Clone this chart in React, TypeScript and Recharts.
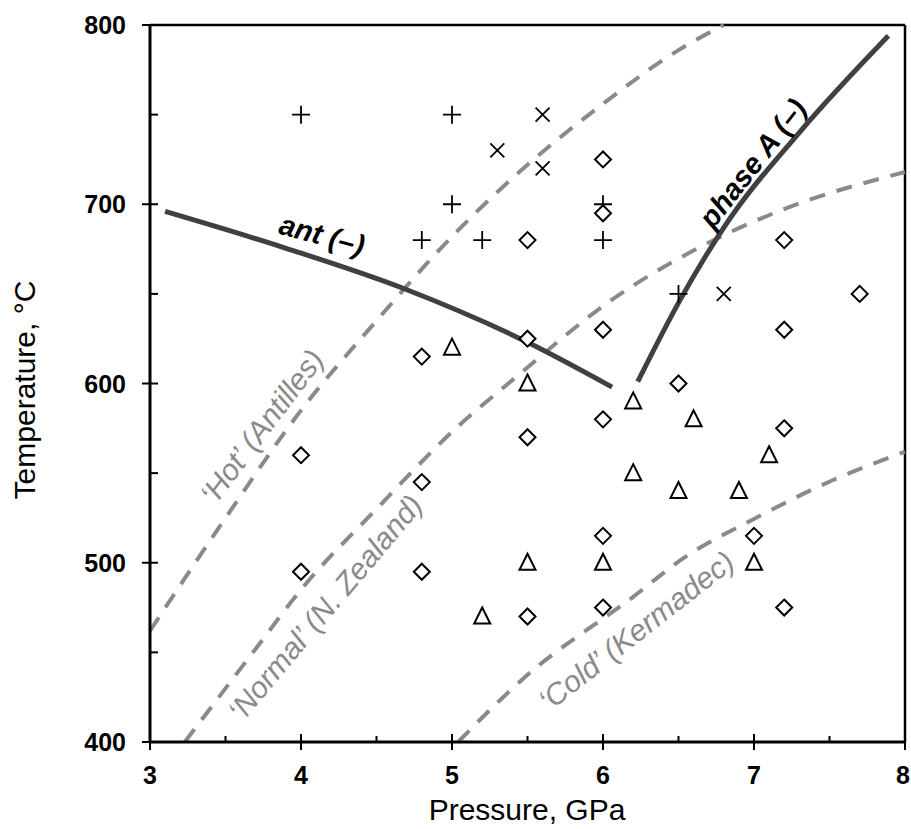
import React from "react";
import {
  ComposedChart,
  Scatter,
  Line,
  XAxis,
  YAxis,
  ReferenceLine,
  ReferenceDot,
} from "recharts";

// experiment runs, P in GPa, T in °C
const plusRuns = [
  { p: 4, t: 750 }, { p: 5, t: 750 }, { p: 5, t: 700 }, { p: 4.8, t: 680 },
  { p: 5.2, t: 680 }, { p: 6, t: 700 }, { p: 6, t: 680 }, { p: 6.5, t: 650 },
];
const crossRuns = [
  { p: 5.3, t: 730 }, { p: 5.6, t: 750 }, { p: 5.6, t: 720 }, { p: 6.8, t: 650 },
];
const diamondRuns = [
  { p: 6, t: 725 }, { p: 6, t: 695 }, { p: 5.5, t: 680 }, { p: 6, t: 630 },
  { p: 5.5, t: 625 }, { p: 4.8, t: 615 }, { p: 7.2, t: 680 }, { p: 7.2, t: 630 },
  { p: 7.7, t: 650 }, { p: 6.5, t: 600 }, { p: 6, t: 580 }, { p: 5.5, t: 570 },
  { p: 7.2, t: 575 }, { p: 4, t: 560 }, { p: 4.8, t: 545 }, { p: 6, t: 515 },
  { p: 7, t: 515 }, { p: 4, t: 495 }, { p: 4.8, t: 495 }, { p: 5.5, t: 470 },
  { p: 6, t: 475 }, { p: 7.2, t: 475 },
];
const triangleRuns = [
  { p: 5, t: 620 }, { p: 5.5, t: 600 }, { p: 6.2, t: 590 }, { p: 6.6, t: 580 },
  { p: 7.1, t: 560 }, { p: 6.2, t: 550 }, { p: 6.5, t: 540 }, { p: 6.9, t: 540 },
  { p: 5.5, t: 500 }, { p: 6, t: 500 }, { p: 7, t: 500 }, { p: 5.2, t: 470 },
];

// reaction curves
const antCurve = [
  { p: 3.1, t: 696 }, { p: 3.88, t: 676 }, { p: 4.68, t: 653 },
  { p: 5.5, t: 623 }, { p: 6.06, t: 598 },
];
const phaseACurve = [
  { p: 6.23, t: 601 }, { p: 6.5, t: 645 }, { p: 6.8, t: 687 },
  { p: 7.3, t: 740 }, { p: 7.89, t: 794 },
];

// slab-top geotherms
const hotGeotherm = [
  { p: 3.0, t: 462 }, { p: 3.5, t: 525 }, { p: 4.0, t: 585 }, { p: 4.5, t: 635 },
  { p: 5.0, t: 682 }, { p: 5.5, t: 722 }, { p: 6.0, t: 756 }, { p: 6.5, t: 786 },
  { p: 6.8, t: 800 },
];
const normalGeotherm = [
  { p: 3.23, t: 400 }, { p: 3.7, t: 452 }, { p: 4.0, t: 485 }, { p: 4.5, t: 530 },
  { p: 5.0, t: 573 }, { p: 5.43, t: 604 }, { p: 6.03, t: 645 }, { p: 6.64, t: 676 },
  { p: 7.19, t: 697 }, { p: 8.0, t: 718 },
];
const coldGeotherm = [
  { p: 5.04, t: 400 }, { p: 5.48, t: 436 }, { p: 6.2, t: 481 }, { p: 6.54, t: 503 },
  { p: 6.99, t: 524 }, { p: 7.52, t: 546 }, { p: 8.0, t: 562 },
];

const xTicks = [3, 3.5, 4, 4.5, 5, 5.5, 6, 6.5, 7, 7.5, 8];
const yTicks = [400, 450, 500, 550, 600, 650, 700, 750, 800];

const FONT = "'Liberation Sans', Arial, sans-serif";
const GREY = "#8a8a8a";
const DARK = "#404040";

const PlusMark = ({ cx, cy }: any) => (
  <path d={`M${cx - 9},${cy}H${cx + 9}M${cx},${cy - 9}V${cy + 9}`} stroke="#000" strokeWidth={1.8} fill="none" />
);
const CrossMark = ({ cx, cy }: any) => (
  <path d={`M${cx - 7},${cy - 7}L${cx + 7},${cy + 7}M${cx - 7},${cy + 7}L${cx + 7},${cy - 7}`} stroke="#000" strokeWidth={1.8} fill="none" />
);
const DiamondMark = ({ cx, cy }: any) => (
  <path d={`M${cx},${cy - 8}L${cx + 8},${cy}L${cx},${cy + 8}L${cx - 8},${cy}Z`} stroke="#000" strokeWidth={2} fill="#fff" />
);
const TriangleMark = ({ cx, cy }: any) => (
  <path d={`M${cx},${cy - 9}L${cx + 8},${cy + 7}L${cx - 8},${cy + 7}Z`} stroke="#000" strokeWidth={2} fill="#fff" />
);

const XTick = ({ x, y, payload }: any) => {
  const major = Number.isInteger(payload.value);
  return (
    <g>
      <line x1={x} x2={x} y1={major ? y - 8 : y - 6} y2={major ? y + 8 : y} stroke="#000" strokeWidth={2} />
      {major && (
        <text x={payload.value === 8 ? x - 2 : x} y={y + 42} textAnchor="middle" fontFamily={FONT} fontWeight="bold" fontSize={25} fill="#000">
          {payload.value}
        </text>
      )}
    </g>
  );
};

const YTick = ({ x, y, payload }: any) => {
  const major = payload.value % 100 === 0;
  return (
    <g>
      <line x1={major ? x - 8 : x} x2={x + 8} y1={y} y2={y} stroke="#000" strokeWidth={2} />
      {major && (
        <text x={x - 24} y={y + 9} textAnchor="end" fontFamily={FONT} fontWeight="bold" fontSize={25} fill="#000">
          {payload.value}
        </text>
      )}
    </g>
  );
};

const tiltedText = (text: string, angle: number, style: any) => ({ cx, cy }: any) => (
  <text
    x={cx}
    y={cy}
    dy="0.35em"
    textAnchor="middle"
    transform={`rotate(${angle} ${cx} ${cy})`}
    fontFamily={FONT}
    {...style}
  >
    {text}
  </text>
);

const greyLabel = { fill: GREY, fontStyle: "italic", fontSize: 30 };
const darkLabel = { fill: "#000", fontStyle: "italic", fontWeight: "bold", fontSize: 29 };

const TempLabel = () => (
  <text x={35} y={390} transform="rotate(-90 35 390)" textAnchor="middle" fontFamily={FONT} fontSize={30} fill="#000">
    Temperature, °C
  </text>
);
const PressLabel = () => (
  <text x={527} y={820} textAnchor="middle" fontFamily={FONT} fontSize={30} fill="#000">
    Pressure, GPa
  </text>
);

export default function App() {
  return (
    <div style={{ position: "absolute", left: 0, top: 0, width: 911, height: 829, background: "#fff" }}>
      <ComposedChart width={911} height={829} margin={{ top: 25, right: 6, bottom: 0, left: 0 }}>
        <XAxis
          type="number"
          dataKey="p"
          domain={[3, 8]}
          ticks={xTicks}
          interval={0}
          tickSize={0}
          tickMargin={0}
          tick={<XTick />}
          height={87}
          axisLine={{ stroke: "#000", strokeWidth: 3 }}
          label={{ content: <PressLabel /> }}
        />
        <YAxis
          type="number"
          dataKey="t"
          domain={[400, 800]}
          ticks={yTicks}
          interval={0}
          tickSize={0}
          tickMargin={0}
          tick={<YTick />}
          width={150}
          axisLine={{ stroke: "#000", strokeWidth: 3 }}
          label={{ content: <TempLabel /> }}
        />
        <ReferenceLine y={800} stroke="#000" strokeWidth={2.5} />
        <ReferenceLine x={8} stroke="#000" strokeWidth={2.5} />

        <Line data={hotGeotherm} dataKey="t" type="monotone" stroke={GREY} strokeWidth={4} strokeDasharray="16 12" dot={false} isAnimationActive={false} />
        <Line data={normalGeotherm} dataKey="t" type="monotone" stroke={GREY} strokeWidth={4} strokeDasharray="16 12" dot={false} isAnimationActive={false} />
        <Line data={coldGeotherm} dataKey="t" type="monotone" stroke={GREY} strokeWidth={4} strokeDasharray="16 12" dot={false} isAnimationActive={false} />
        <Line data={antCurve} dataKey="t" type="monotone" stroke={DARK} strokeWidth={5} dot={false} isAnimationActive={false} />
        <Line data={phaseACurve} dataKey="t" type="monotone" stroke={DARK} strokeWidth={5} dot={false} isAnimationActive={false} />

        <Scatter data={plusRuns} dataKey="t" shape={PlusMark} isAnimationActive={false} />
        <Scatter data={crossRuns} dataKey="t" shape={CrossMark} isAnimationActive={false} />
        <Scatter data={diamondRuns} dataKey="t" shape={DiamondMark} isAnimationActive={false} />
        <Scatter data={triangleRuns} dataKey="t" shape={TriangleMark} isAnimationActive={false} />

        <ReferenceDot x={3.74} y={576} shape={tiltedText("‘Hot’ (Antilles)", -53, greyLabel)} />
        <ReferenceDot x={4.16} y={475} shape={tiltedText("‘Normal’ (N. Zealand)", -50, greyLabel)} />
        <ReferenceDot x={6.22} y={462} shape={tiltedText("‘Cold’ (Kermadec)", -38, greyLabel)} />
        <ReferenceDot x={4.14} y={683} shape={tiltedText("ant (–)", 15, darkLabel)} />
        <ReferenceDot x={6.99} y={723} shape={tiltedText("phase A (–)", -52, darkLabel)} />
      </ComposedChart>
    </div>
  );
}
